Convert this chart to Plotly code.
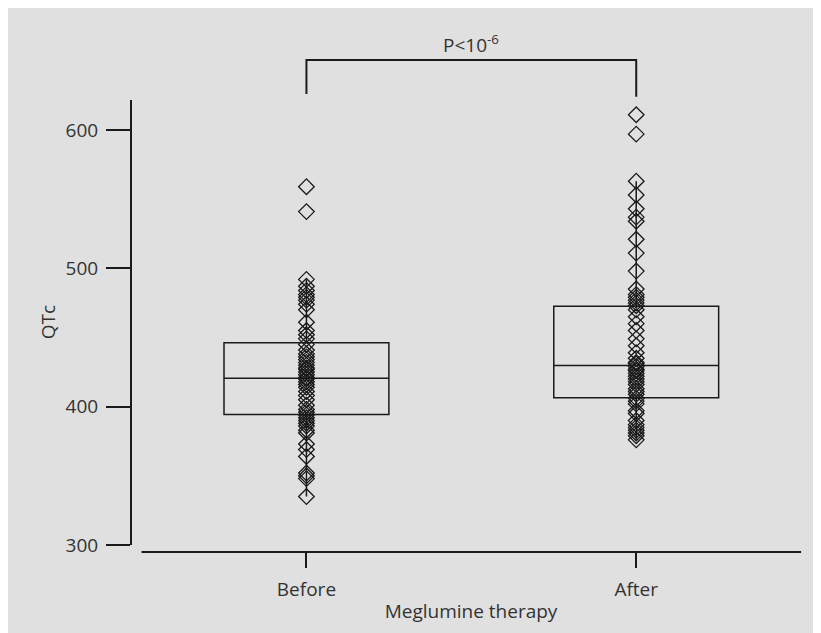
import plotly.graph_objects as go

# ---- data ----
categories = ["Before", "After"]
cat_pos = [0, 1]

before_qtc = [559, 541, 492, 487, 484, 481, 479, 477, 474, 470, 461, 455, 452, 449,
              445, 441, 438, 436, 434, 432, 430, 428, 427, 425, 423, 421, 420, 418,
              416, 414, 411, 408, 405, 401, 398, 396, 394, 392, 390, 388, 386, 383,
              381, 373, 369, 364, 352, 350, 348, 335]
after_qtc = [611, 597, 563, 553, 543, 537, 534, 521, 511, 498, 485, 481, 479, 477,
             475, 473, 470, 465, 460, 455, 449, 444, 439, 435, 432, 431, 429, 427,
             426, 424, 422, 420, 418, 416, 413, 411, 409, 406, 404, 402, 397, 395,
             390, 387, 385, 383, 381, 379, 376]

box_q1 = [394.4, 406.5]
box_median = [420.5, 429.7]
box_q3 = [446.2, 472.5]
box_lower = [335, 376]
box_upper = [492, 563]

y_ticks = [300, 400, 500, 600]
p_label = "P<10<sup>-6</sup>"

# ---- styling ----
INK = "#1a1a1a"
TXT = "#333333"
FONT = "Open Sans"
FS = 19
X_RANGE = [-0.532, 1.53]
Y_RANGE = [294.94, 679.5]
Y_AXIS_TOP = 621.7
BRACKET_TOP = 650.6
BRACKET_LEGS = [626.0, 624.0]

fig = go.Figure()

for i, vals in enumerate([before_qtc, after_qtc]):
    fig.add_trace(go.Box(
        x=[cat_pos[i]], q1=[box_q1[i]], median=[box_median[i]], q3=[box_q3[i]],
        lowerfence=[box_lower[i]], upperfence=[box_upper[i]],
        width=0.5, whiskerwidth=0, boxpoints=False,
        line=dict(color=INK, width=1.5), fillcolor="rgba(0,0,0,0)",
        showlegend=False, hoverinfo="skip"))
    fig.add_trace(go.Scatter(
        x=[cat_pos[i]] * len(vals), y=vals, mode="markers",
        marker=dict(symbol="diamond-open", size=12, color=INK,
                    line=dict(color=INK, width=1.3)),
        showlegend=False, name=categories[i]))

shapes = [
    # y axis line
    dict(type="line", xref="paper", yref="y", x0=0, x1=0, y0=y_ticks[0], y1=Y_AXIS_TOP,
         line=dict(color=INK, width=2)),
    # x axis line
    dict(type="line", xref="x", yref="paper", x0=-0.5, x1=1.5, y0=0, y1=0,
         line=dict(color=INK, width=2)),
    # significance bracket
    dict(type="path", xref="x", yref="y",
         path=f"M {cat_pos[0]},{BRACKET_LEGS[0]} L {cat_pos[0]},{BRACKET_TOP} "
              f"L {cat_pos[1]},{BRACKET_TOP} L {cat_pos[1]},{BRACKET_LEGS[1]}",
         line=dict(color=INK, width=2)),
]

annotations = [
    dict(x=(cat_pos[0] + cat_pos[1]) / 2, y=662.2, xref="x", yref="y", text=p_label,
         showarrow=False, font=dict(family=FONT, size=FS, color=TXT),
         xanchor="center", yanchor="middle"),
    dict(x=-0.122, y=461, xref="paper", yref="y", text="QTc", textangle=-90,
         showarrow=False, font=dict(family=FONT, size=FS, color=TXT),
         xanchor="center", yanchor="middle"),
]

fig.update_layout(
    width=821, height=633,
    margin=dict(l=123, r=18, t=12, b=89),
    paper_bgcolor="#e0e0e0", plot_bgcolor="rgba(0,0,0,0)",
    font=dict(family=FONT, size=FS, color=TXT),
    shapes=shapes, annotations=annotations,
    xaxis=dict(range=X_RANGE, tickvals=cat_pos, ticktext=categories,
               showgrid=False, zeroline=False, showline=False,
               ticks="outside", ticklen=15, tickwidth=1.5, tickcolor=INK,
               ticklabelstandoff=5,
               tickfont=dict(family=FONT, size=FS, color=TXT),
               title=dict(text="Meglumine therapy", standoff=3,
                          font=dict(family=FONT, size=FS, color=TXT))),
    yaxis=dict(range=Y_RANGE, tickvals=y_ticks, showgrid=False, zeroline=False,
               showline=False, ticks="outside", ticklen=24, tickwidth=2, tickcolor=INK,
               ticklabelstandoff=4,
               tickfont=dict(family=FONT, size=FS, color=TXT)),
)

fig.write_html("out.html")
